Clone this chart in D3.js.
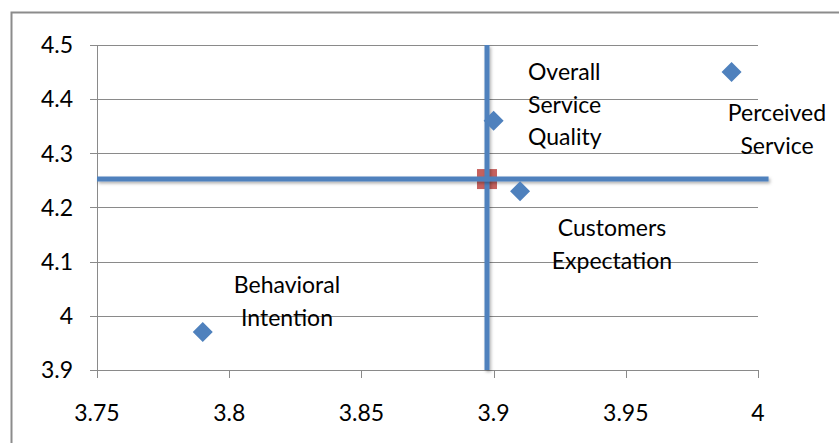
<!DOCTYPE html>
<html><head><meta charset="utf-8">
<script src="https://cdn.jsdelivr.net/npm/d3@7"></script>
<style>
html,body{margin:0;padding:0;background:#fff;}
svg text{font-family:Lato,"Open Sans",sans-serif;fill:#000;}
</style></head>
<body>
<svg id="chart" width="839" height="443"></svg>
<script>
// Data
const names = ["Behavioral Intention","Overall Service Quality","Perceived Service","Customers Expectation"];
const xValues = [3.79, 3.9, 3.99, 3.91];
const yValues = [3.97, 4.36, 4.45, 4.23];
const meanPoint = [3.8975, 4.2525];
const vLineX = [3.8975, 3.8975];
const vLineY = [3.9, 4.5];
const hLineX = [3.75, 4.004];
const hLineY = [4.2525, 4.2525];
const xTicks = [3.75, 3.8, 3.85, 3.9, 3.95, 4];
const yTicks = [3.9, 4, 4.1, 4.2, 4.3, 4.4, 4.5];
const labelLines = [["Behavioral","Intention"],["Overall","Service","Quality"],["Perceived","Service"],["Customers","Expectation"]];

const svg = d3.select("#chart");
const x = d3.scaleLinear().domain([3.75, 4]).range([97, 758]);
const y = d3.scaleLinear().domain([3.9, 4.5]).range([370, 45]);
const FS = "23px";

const defs = svg.append("defs");
const f = defs.append("filter").attr("id","sh").attr("filterUnits","userSpaceOnUse")
  .attr("x",0).attr("y",0).attr("width",839).attr("height",443);
f.append("feDropShadow").attr("dx",1.5).attr("dy",2).attr("stdDeviation",1.5).attr("flood-color","#000").attr("flood-opacity",0.3);

// outer border
svg.append("path").attr("d","M11.5,443 V12.5 H839").attr("fill","none").attr("stroke","#8c8c8c").attr("stroke-width",2);

// gridlines
svg.append("g").selectAll("line").data(yTicks).join("line")
  .attr("x1",90).attr("x2",758).attr("y1",d=>Math.round(y(d))+0.5).attr("y2",d=>Math.round(y(d))+0.5)
  .attr("stroke","#8a8a8a").attr("stroke-width",1);

// y axis line
svg.append("line").attr("x1",97.5).attr("x2",97.5).attr("y1",45).attr("y2",378).attr("stroke","#8a8a8a");
// x ticks
svg.append("g").selectAll("line").data(xTicks).join("line")
  .attr("x1",d=>Math.round(x(d))+0.5).attr("x2",d=>Math.round(x(d))+0.5).attr("y1",370).attr("y2",378)
  .attr("stroke","#8a8a8a");

// tick labels
svg.append("g").selectAll("text").data(yTicks).join("text")
  .attr("x",73).attr("y",d=>y(d)).attr("dy","0.36em").attr("text-anchor","end")
  .style("font-size",FS).text(d=>d3.format("")(d));
svg.append("g").selectAll("text").data(xTicks).join("text")
  .attr("x",d=>x(d)).attr("y",413).attr("dy","0.36em").attr("text-anchor","middle")
  .style("font-size",FS).text(d=>d3.format("")(d));

// mean square
svg.append("rect").attr("x",x(meanPoint[0])-10).attr("y",y(meanPoint[1])-10).attr("width",20).attr("height",20)
  .attr("fill","#c0504d").attr("opacity",0.9);

// quadrant lines
const line = d3.line().x(d=>x(d[0])).y(d=>y(d[1]));
svg.append("path").attr("d",line(d3.zip(vLineX,vLineY))).attr("stroke","#4f81bd").attr("stroke-width",5).attr("fill","none").attr("filter","url(#sh)");
svg.append("path").attr("d",line(d3.zip(hLineX,hLineY))).attr("stroke","#4f81bd").attr("stroke-width",5).attr("fill","none").attr("filter","url(#sh)");

// points
const pts = d3.zip(xValues,yValues);
svg.append("g").selectAll("path").data(pts).join("path")
  .attr("d",d3.symbol(d3.symbolSquare, 200)())
  .attr("transform",d=>`translate(${x(d[0])},${y(d[1])}) rotate(45)`)
  .attr("fill","#4f81bd");

// labels
const labelPos = [[287,285,"middle"],[528,72,"start"],[777,113,"middle"],[612,228,"middle"]];
labelLines.forEach((lines,i)=>{
  const [lx,ly,anchor] = labelPos[i];
  const t = svg.append("text").attr("text-anchor",anchor).style("font-size",FS);
  lines.forEach((s,j)=>{
    t.append("tspan").attr("x",lx).attr("y",ly+j*(i===1?32.5:33)).attr("dy","0.36em").text(s);
  });
});
</script>
</body></html>
